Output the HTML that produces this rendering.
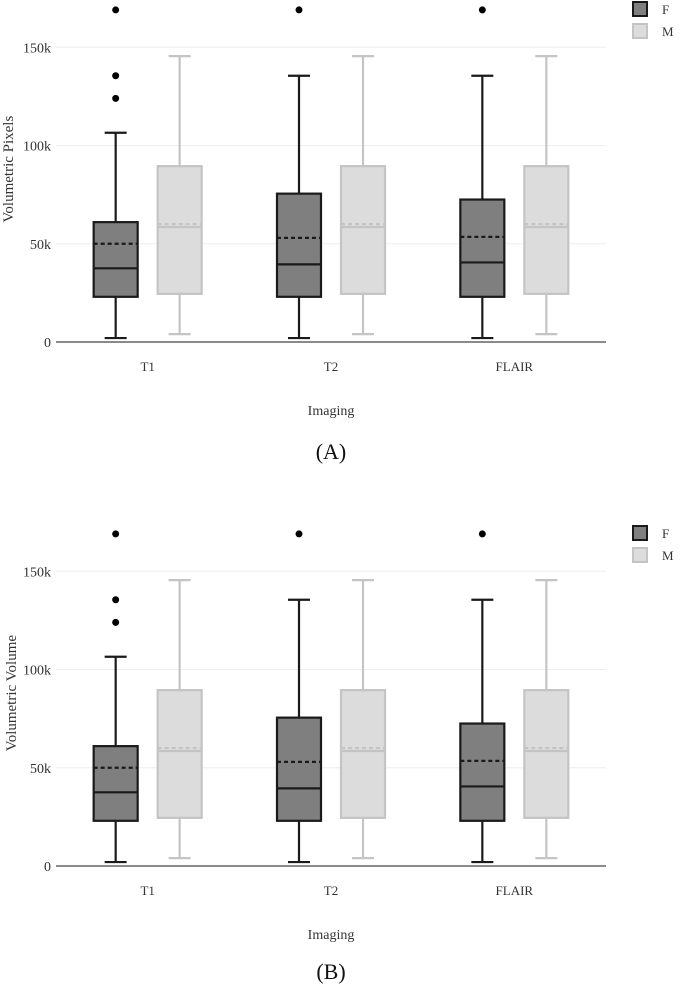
<!DOCTYPE html>
<html><head><meta charset="utf-8">
<style>
html,body{margin:0;padding:0;background:#fff;}
svg{display:block;font-family:"Liberation Serif",serif;}
</style></head>
<body>
<svg id="s" width="685" height="991" viewBox="0 0 685 991" xmlns="http://www.w3.org/2000/svg"></svg>
<script>
const categories = ["T1","T2","FLAIR"];
const groups = ["F","M"];
const fLow = [2,2,2];
const fQ1 = [23,23,23];
const fMed = [37.5,39.5,40.5];
const fMean = [50,53,53.5];
const fQ3 = [61,75.5,72.5];
const fHigh = [106.5,135.5,135.5];
const fOutliers = [[124,135.5,169],[169],[169]];
const mLow = [4,4,4];
const mQ1 = [24.5,24.5,24.5];
const mMed = [58.5,58.5,58.5];
const mMean = [60,60,60];
const mQ3 = [89.5,89.5,89.5];
const mHigh = [145.5,145.5,145.5];
const yTicks = [0,50,100,150];
const yTickLabels = ["0","50k","100k","150k"];

const NS="http://www.w3.org/2000/svg";
const svg=document.getElementById('s');
function mk(tag,attrs,parent,name){const e=document.createElementNS(NS,tag);for(const k in attrs)e.setAttribute(k,attrs[k]);


(parent||svg).appendChild(e);return e;}

function chart(off,yTitle,panel,tag,plOff){
  const g=mk('g',{},svg,'chart-'+tag);
  const y0=342+off, ppk=1.965;
  const yS=v=>y0-v*ppk;
  const left=56,right=606,bw=(right-left)/categories.length;
  const xC=i=>left+bw*(i+0.5);
  yTicks.forEach((t,i)=>{
    if(t>0) mk('line',{x1:left,x2:right,y1:yS(t),y2:yS(t),stroke:'#eee','stroke-width':1},g,'gridline');
    const tx=mk('text',{x:51,y:yS(t)+5,'text-anchor':'end','font-size':14,fill:'#333'},g,'y-tick-label');tx.textContent=yTickLabels[i];
  });
  mk('line',{x1:left,x2:right,y1:y0,y2:y0,stroke:'#444','stroke-width':1.2},g,'x-axis-line');
  categories.forEach((c,i)=>{
    const t=mk('text',{x:xC(i),y:y0+29,'text-anchor':'middle','font-size':13,fill:'#333'},g,'x-tick-label');t.textContent=c;
  });
  const yt=mk('text',{x:0,y:0,'text-anchor':'middle','font-size':15,fill:'#333',transform:`translate(${tag==='a'?13:16},${yS(88)}) rotate(-90)`},g,'y-axis-title');yt.textContent=yTitle;
  const xt=mk('text',{x:331,y:y0+73,'text-anchor':'middle','font-size':14,fill:'#333'},g,'x-axis-title');xt.textContent='Imaging';
  const pl=mk('text',{x:331,y:y0+plOff,'text-anchor':'middle','font-size':22,fill:'#111'},g,'panel-label');pl.textContent=panel;
  const sets=[{lo:fLow,q1:fQ1,md:fMed,mn:fMean,q3:fQ3,hi:fHigh,fill:'#7f7f7f',st:'#1a1a1a',dx:-32,n:'f'},
              {lo:mLow,q1:mQ1,md:mMed,mn:mMean,q3:mQ3,hi:mHigh,fill:'#dcdcdc',st:'#c4c4c4',dx:32,n:'m'}];
  sets.forEach(s=>{
    categories.forEach((c,i)=>{
      const cx=xC(i)+s.dx,hw=22,cap=11,sw=2.2;
      const bg=mk('g',{},g,'box-'+s.n+'-'+c.toLowerCase());
      mk('line',{x1:cx,x2:cx,y1:yS(s.hi[i]),y2:yS(s.q3[i]),stroke:s.st,'stroke-width':sw},bg,'upper-whisker');
      mk('line',{x1:cx,x2:cx,y1:yS(s.q1[i]),y2:yS(s.lo[i]),stroke:s.st,'stroke-width':sw},bg,'lower-whisker');
      mk('line',{x1:cx-cap,x2:cx+cap,y1:yS(s.hi[i]),y2:yS(s.hi[i]),stroke:s.st,'stroke-width':sw},bg,'upper-cap');
      mk('line',{x1:cx-cap,x2:cx+cap,y1:yS(s.lo[i]),y2:yS(s.lo[i]),stroke:s.st,'stroke-width':sw},bg,'lower-cap');
      mk('rect',{x:cx-hw,y:yS(s.q3[i]),width:2*hw,height:yS(s.q1[i])-yS(s.q3[i]),fill:s.fill,stroke:s.st,'stroke-width':sw},bg,'box');
      mk('line',{x1:cx-hw,x2:cx+hw,y1:yS(s.md[i]),y2:yS(s.md[i]),stroke:s.st,'stroke-width':sw},bg,'median-line');
      mk('line',{x1:cx-hw,x2:cx+hw,y1:yS(s.mn[i]),y2:yS(s.mn[i]),stroke:s.st,'stroke-width':sw,'stroke-dasharray':'4,3'},bg,'mean-line');
      if(s.n==='f') fOutliers[i].forEach(v=>mk('circle',{cx:cx,cy:yS(v),r:3.5,fill:'#000'},bg,'outlier-point'));
    });
  });
  const lg=mk('g',{},g,'legend');
  [['F','#7f7f7f','#1a1a1a'],['M','#dcdcdc','#c4c4c4']].forEach((l,i)=>{
    mk('rect',{x:633,y:2+off+i*22,width:14,height:14,fill:l[1],stroke:l[2],'stroke-width':2},lg,'legend-swatch-'+l[0].toLowerCase());
    const t=mk('text',{x:662,y:14+off+i*22,'font-size':13,fill:'#333'},lg,'legend-label-'+l[0].toLowerCase());t.textContent=l[0];
  });
}
chart(0,'Volumetric Pixels','(A)','a',117);
chart(524,'Volumetric Volume','(B)','b',113);
</script>
</body></html>
